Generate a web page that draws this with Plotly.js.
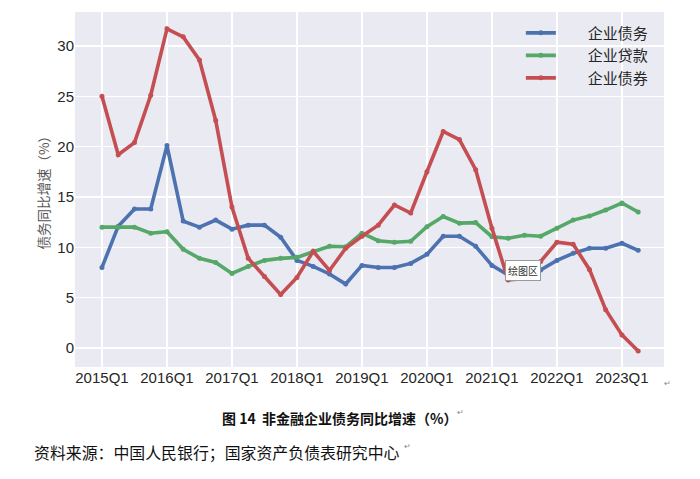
<!DOCTYPE html>
<html>
<head>
<meta charset="utf-8">
<script src="https://cdn.plot.ly/plotly-3.0.1.min.js"></script>
<style>
html,body{margin:0;padding:0;background:#fff;}
#chart{width:700px;height:479px;}
</style>
</head>
<body>
<div id="chart"></div>
<script>
const quarters = ["2015Q1","2015Q2","2015Q3","2015Q4","2016Q1","2016Q2","2016Q3","2016Q4",
  "2017Q1","2017Q2","2017Q3","2017Q4","2018Q1","2018Q2","2018Q3","2018Q4",
  "2019Q1","2019Q2","2019Q3","2019Q4","2020Q1","2020Q2","2020Q3","2020Q4",
  "2021Q1","2021Q2","2021Q3","2021Q4","2022Q1","2022Q2","2022Q3","2022Q4",
  "2023Q1","2023Q2"];
const tickLabels = ["2015Q1","2016Q1","2017Q1","2018Q1","2019Q1","2020Q1","2021Q1","2022Q1","2023Q1"];
const debt = [8.0,12.1,13.8,13.8,20.1,12.6,12.0,12.7,11.8,12.2,12.2,11.0,
  8.7,8.1,7.35,6.35,8.2,8.0,8.0,8.4,9.3,11.1,11.1,10.1,
  8.2,7.25,7.0,7.75,8.7,9.4,9.9,9.9,10.4,9.7];
const loans = [12.0,12.0,12.0,11.4,11.55,9.8,8.9,8.5,7.4,8.1,8.7,8.9,
  9.0,9.55,10.1,10.05,11.4,10.65,10.5,10.6,12.05,13.05,12.4,12.45,
  11.05,10.9,11.2,11.1,11.9,12.7,13.1,13.7,14.4,13.5];
const bonds = [25.0,19.2,20.4,25.1,31.7,30.9,28.6,22.6,14.0,8.9,7.1,5.3,
  7.0,9.6,7.7,9.9,11.1,12.2,14.2,13.4,17.5,21.5,20.7,17.7,
  11.9,6.75,6.9,8.6,10.5,10.3,7.8,3.8,1.3,-0.3];
const seriesNames = ["企业债务","企业贷款","企业债券"];
const colors = ["#4C72B0","#55A868","#C44E52"];
const pad = "\u00a0\u00a0\u00a0\u00a0\u00a0\u00a0\u00a0\u00a0";

const traces = [debt, loans, bonds].map((vals, k) => ({
  type: "scatter",
  mode: "lines+markers",
  x: quarters,
  y: vals,
  name: pad + seriesNames[k],
  line: {color: colors[k], width: 3.6},
  marker: {color: colors[k], size: 5}
}));

const layout = {
  width: 700, height: 479,
  margin: {l: 75, r: 36, t: 12, b: 112},
  paper_bgcolor: "#ffffff",
  plot_bgcolor: "#EAEAF2",
  font: {family: "Liberation Sans, Arial, sans-serif", color: "#262626"},
  showlegend: true,
  legend: {
    x: 0.757, y: 0.987, xanchor: "left", yanchor: "top",
    bgcolor: "rgba(0,0,0,0)",
    font: {family: "Noto Sans CJK SC", size: 15, color: "#262626"},
    tracegroupgap: 0, itemwidth: 30
  },
  xaxis: {
    type: "category",
    range: [-1.66, 34.59],
    tickmode: "array",
    tickvals: tickLabels,
    ticktext: tickLabels,
    showgrid: true, gridcolor: "#ffffff", gridwidth: 1.2,
    zeroline: false, showline: false, ticks: "",
    tickfont: {size: 15, color: "#262626"}
  },
  yaxis: {
    range: [-1.89, 33.37],
    tickvals: [0,5,10,15,20,25,30],
    showgrid: true, gridcolor: "#ffffff", gridwidth: 1.2,
    zeroline: false, showline: false, ticks: "",
    tickfont: {size: 15, color: "#262626"}
  },
  annotations: [
    {text: "债务同比增速（%）", xref: "paper", yref: "paper", x: -0.056, y: 0.5,
     xanchor: "center", yanchor: "middle", textangle: -90, showarrow: false,
     font: {family: "Noto Sans CJK SC", size: 13.5, color: "#555555"}},
    {text: "<b>图 14  非金融企业债务同比增速（%）</b>", xref: "paper", yref: "paper",
     x: 0.45, y: -0.144, xanchor: "center", yanchor: "middle", showarrow: false,
     font: {family: "Noto Sans CJK SC", size: 14, color: "#111111"}},
    {text: "资料来源：中国人民银行；国家资产负债表研究中心", xref: "paper", yref: "paper",
     x: -0.073, y: -0.24, xanchor: "left", yanchor: "middle", showarrow: false,
     font: {family: "Noto Sans CJK SC", size: 15.9, color: "#111111"}},
    {text: "↵", xref: "paper", yref: "paper", x: 1.015, y: -0.065, showarrow: false,
     font: {size: 8, color: "#888888"}},
    {text: "↵", xref: "paper", yref: "paper", x: 0.645, y: -0.147, xanchor: "left", showarrow: false,
     font: {size: 8, color: "#888888"}},
    {text: "↵", xref: "paper", yref: "paper", x: 0.556, y: -0.243, xanchor: "left", showarrow: false,
     font: {size: 8, color: "#888888"}},
    {text: "绘图区", xref: "paper", yref: "paper", x: 0.76, y: 0.273,
     xanchor: "center", yanchor: "middle", showarrow: false,
     bgcolor: "#ffffff", bordercolor: "#999999", borderwidth: 1, borderpad: 2,
     font: {family: "Noto Sans CJK SC", size: 10, color: "#333333"}}
  ]
};

Plotly.newPlot("chart", traces, layout, {displayModeBar: false, staticPlot: true});
</script>
</body>
</html>
